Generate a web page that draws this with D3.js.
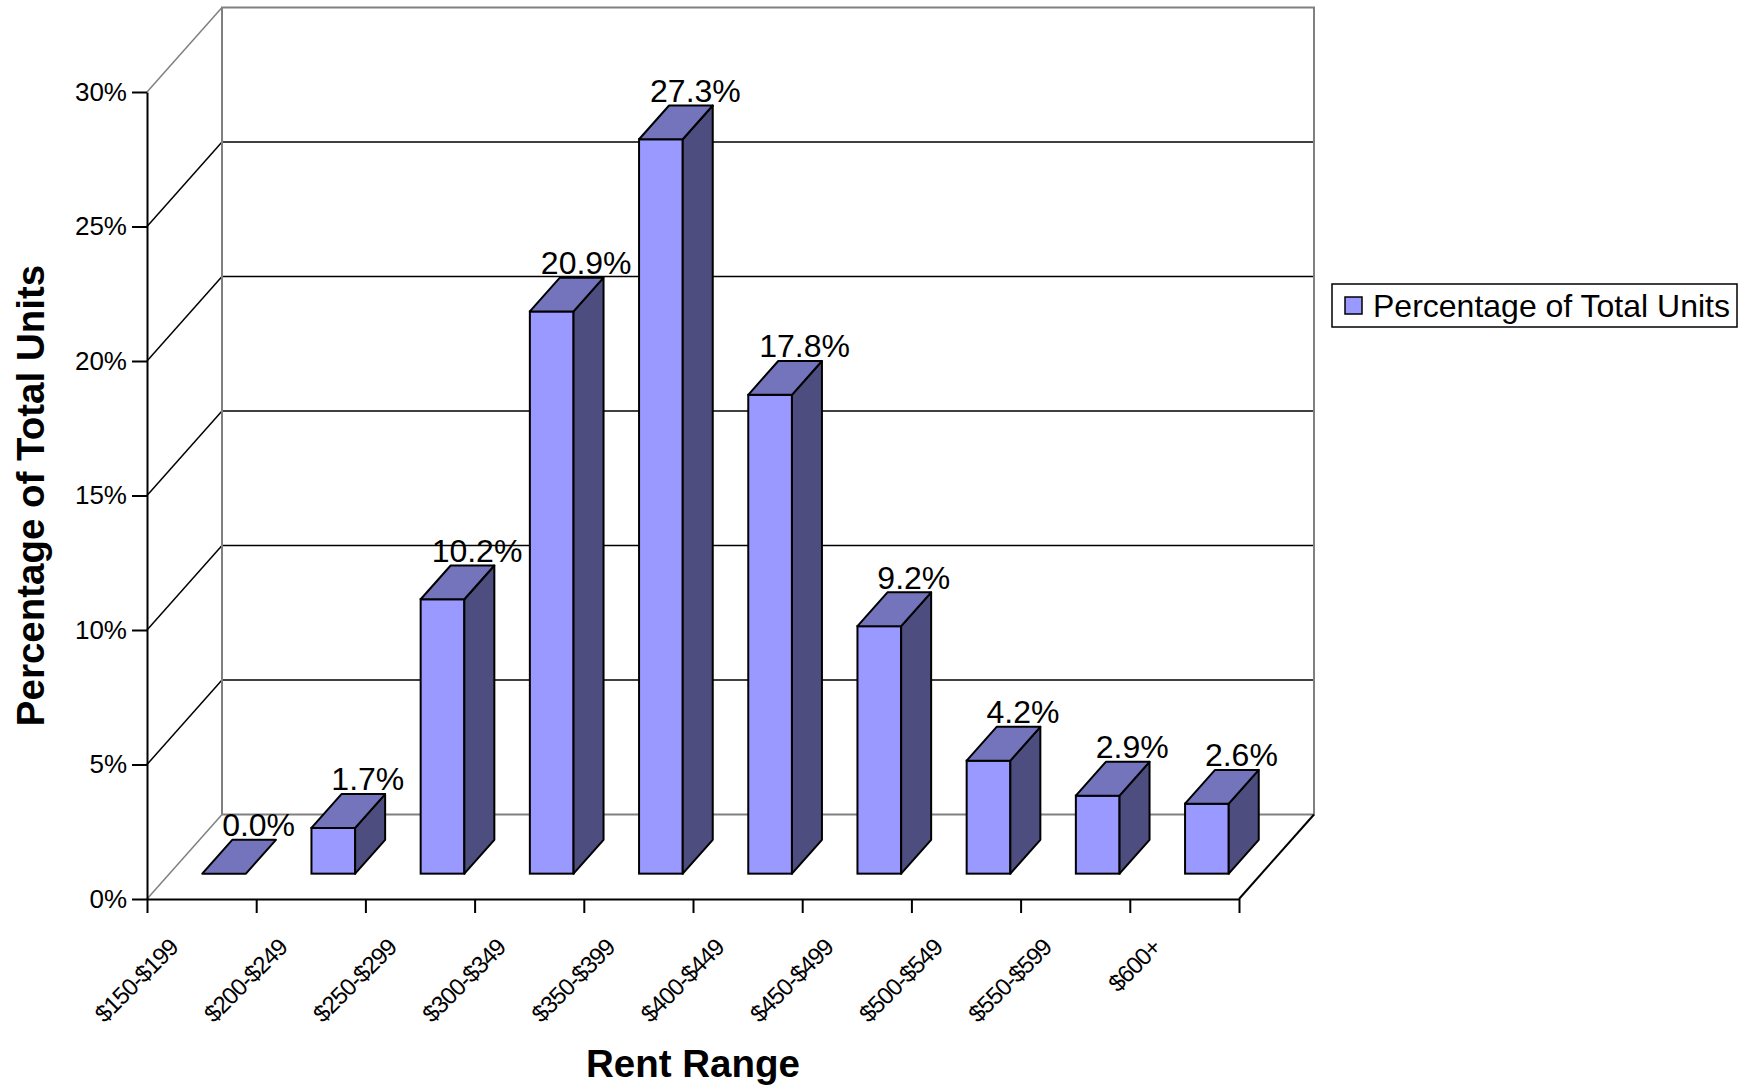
<!DOCTYPE html>
<html>
<head>
<meta charset="utf-8">
<script src="https://cdn.jsdelivr.net/npm/d3@7"></script>
<style>
  body { margin: 0; background: #fff; }
  text { font-family: "Liberation Sans", Arial, sans-serif; fill: #000; }
</style>
</head>
<body>
  <script>
    // rent ranges and share of units (%)
    const categories = ["$150-$199", "$200-$249", "$250-$299", "$300-$349", "$350-$399",
                        "$400-$449", "$450-$499", "$500-$549", "$550-$599", "$600+"];
    const values = [0.0, 1.7, 10.2, 20.9, 27.3, 17.8, 9.2, 4.2, 2.9, 2.6];
    const yTickValues = [0, 5, 10, 15, 20, 25, 30];
    const seriesName = "Percentage of Total Units";

    const w = 1744;
    const h = 1090;
    const left = 147, right = 1239;
    const floorY = 899, topY = 92;
    // depth vector of the 3d box
    const dx = 75, dy = -84.5;

    const svg = d3.select("body")
                  .append("svg")
                  .attr("width", w)
                  .attr("height", h);

    const x = d3.scaleBand()
                .domain(categories)
                .range([left, right])
                .paddingInner(0.6)
                .paddingOuter(0.3);

    const xi = d3.scaleLinear()
                 .domain([0, categories.length])
                 .range([left, right]);

    const y = d3.scaleLinear()
                .domain([0, 30])
                .range([floorY, topY]);

    const grey = "#808080";

    // back wall
    const wall = svg.append("g");
    wall.selectAll("line.grid")
        .data(yTickValues.slice(1, -1))
        .enter()
        .append("line")
        .attr("x1", left + dx)
        .attr("x2", right + dx)
        .attr("y1", (d) => y(d) + dy)
        .attr("y2", (d) => y(d) + dy)
        .attr("stroke", "#000")
        .attr("stroke-width", 1.5);

    // side wall diagonals
    wall.selectAll("line.diag")
        .data(yTickValues)
        .enter()
        .append("line")
        .attr("x1", left)
        .attr("y1", (d) => y(d))
        .attr("x2", left + dx)
        .attr("y2", (d) => y(d) + dy)
        .attr("stroke", (d) => (d === 0 || d === 30) ? grey : "#000")
        .attr("stroke-width", 1.5);

    // back wall outline + floor back edge
    wall.append("path")
        .attr("d", `M${left + dx},${y(0) + dy}V${y(30) + dy}H${right + dx}V${y(0) + dy}H${left + dx}`)
        .attr("fill", "none")
        .attr("stroke", grey)
        .attr("stroke-width", 2);

    // floor right edge
    wall.append("line")
        .attr("x1", right).attr("y1", floorY)
        .attr("x2", right + dx).attr("y2", floorY + dy)
        .attr("stroke", "#000")
        .attr("stroke-width", 2);

    // bars
    const f0 = 0.3, f1 = 0.4;
    const fx = dx * f0, fy = dy * f0;
    const bx = dx * f1, by = dy * f1;
    const bw = x.bandwidth();

    const bars = svg.selectAll("g.bar")
                    .data(values)
                    .enter()
                    .append("g")
                    .attr("class", "bar");

    bars.each(function (v, i) {
      const g = d3.select(this);
      const x0 = x(categories[i]) + fx;
      const yb = y(0) + fy;
      const yt = y(v) + fy;
      if (v > 0) {
        g.append("rect")
         .attr("x", x0).attr("y", yt)
         .attr("width", bw).attr("height", yb - yt)
         .attr("fill", "#9999ff")
         .attr("stroke", "#000").attr("stroke-width", 2);
        g.append("path")
         .attr("d", `M${x0 + bw},${yt}L${x0 + bw + bx},${yt + by}V${yb + by}L${x0 + bw},${yb}Z`)
         .attr("fill", "#4d4d80")
         .attr("stroke", "#000").attr("stroke-width", 2).attr("stroke-linejoin", "round");
      }
      g.append("path")
       .attr("d", `M${x0},${yt}L${x0 + bx},${yt + by}H${x0 + bw + bx}L${x0 + bw},${yt}Z`)
       .attr("fill", "#7474bc")
       .attr("stroke", "#000").attr("stroke-width", 2).attr("stroke-linejoin", "round");
    });

    // data labels
    svg.selectAll("text.val")
       .data(values)
       .enter()
       .append("text")
       .attr("class", "val")
       .attr("x", (d, i) => x(categories[i]) + bw / 2 + 57)
       .attr("y", (d) => y(d) - 63)
       .attr("text-anchor", "middle")
       .style("font-size", "32px")
       .text((d) => d.toFixed(1) + "%");

    // y axis
    const yAxis = svg.append("g")
                     .attr("transform", `translate(${left},0)`)
                     .call(d3.axisLeft(y)
                             .tickValues(yTickValues)
                             .tickSize(15)
                             .tickSizeOuter(0)
                             .tickPadding(5)
                             .tickFormat((d) => d + "%"));
    yAxis.selectAll("path, line").attr("stroke", "#000").attr("stroke-width", 2);
    yAxis.selectAll("text").style("font-size", "26px").attr("font-family", null);

    // x axis: ticks on category edges
    const xAxis = svg.append("g")
                     .attr("transform", `translate(0,${floorY})`)
                     .call(d3.axisBottom(xi)
                             .tickValues(d3.range(categories.length + 1))
                             .tickSize(14)
                             .tickSizeOuter(0)
                             .tickFormat((i) => categories[i] || ""));
    xAxis.selectAll("path, line").attr("stroke", "#000").attr("stroke-width", 2);
    xAxis.selectAll("text")
         .attr("x", 0).attr("y", 0).attr("dy", null)
         .attr("text-anchor", "end")
         .attr("transform", "translate(32,50) rotate(-45)")
         .attr("font-family", null)
         .style("font-size", "24px")
         .style("letter-spacing", "-1px");

    // axis titles
    svg.append("text")
       .attr("x", (left + right) / 2)
       .attr("y", 1077)
       .attr("text-anchor", "middle")
       .style("font-size", "38.5px")
       .style("font-weight", "bold")
       .text("Rent Range");

    svg.append("text")
       .attr("transform", `translate(44,${(y(0) + y(30)) / 2}) rotate(-90)`)
       .attr("text-anchor", "middle")
       .style("font-size", "38.5px")
       .style("font-weight", "bold")
       .text("Percentage of Total Units");

    // legend
    const legend = svg.append("g").attr("transform", "translate(1332,284)");
    legend.append("rect")
          .attr("width", 405).attr("height", 43)
          .attr("fill", "#fff")
          .attr("stroke", "#000").attr("stroke-width", 1.5);
    legend.append("rect")
          .attr("x", 13).attr("y", 13)
          .attr("width", 17).attr("height", 17)
          .attr("fill", "#9999ff")
          .attr("stroke", "#000").attr("stroke-width", 1.5);
    legend.append("text")
          .attr("x", 41).attr("y", 33)
          .style("font-size", "32px")
          .text(seriesName);
  </script>
</body>
</html>
